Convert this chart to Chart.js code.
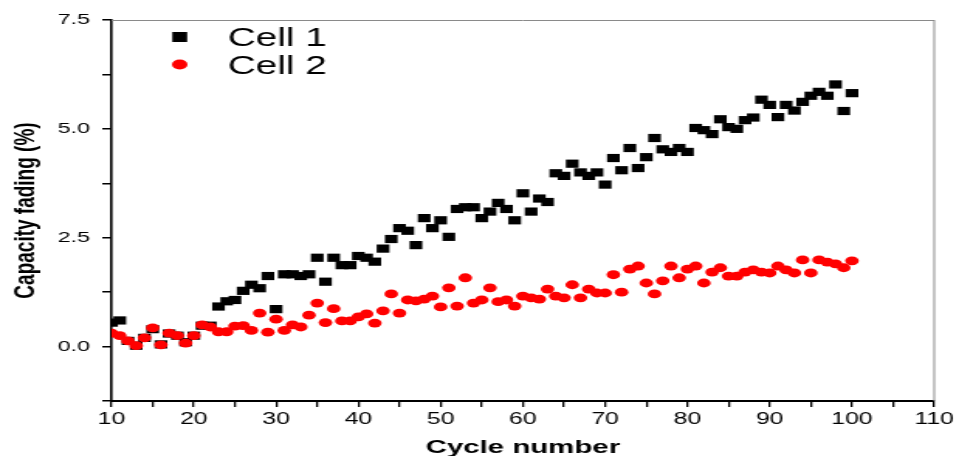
<!DOCTYPE html>
<html>
<head>
<meta charset="utf-8">
<script src="https://cdn.jsdelivr.net/npm/chart.js@4.4.0/dist/chart.umd.min.js"></script>
<style>
html, body { margin: 0; padding: 0; background: #fff; overflow: hidden; }
/* the source figure is stretched sideways, so the chart is drawn narrow and scaled */
#wrap { width: 619px; height: 456px; transform: scaleX(1.5493); transform-origin: 0 0; }
</style>
</head>
<body>
<div id="wrap"><canvas id="fadingChart"></canvas></div>
<script>
// Data
const cycles = [10, 11, 12, 13, 14, 15, 16, 17, 18, 19, 20, 21, 22, 23, 24, 25, 26, 27, 28, 29,
    30, 31, 32, 33, 34, 35, 36, 37, 38, 39, 40, 41, 42, 43, 44, 45, 46, 47, 48, 49,
    50, 51, 52, 53, 54, 55, 56, 57, 58, 59, 60, 61, 62, 63, 64, 65, 66, 67, 68, 69,
    70, 71, 72, 73, 74, 75, 76, 77, 78, 79, 80, 81, 82, 83, 84, 85, 86, 87, 88, 89,
    90, 91, 92, 93, 94, 95, 96, 97, 98, 99, 100];
const cell1 = [0.55, 0.6, 0.13, 0.02, 0.2, 0.4, 0.05, 0.3, 0.25, 0.1, 0.25, 0.48, 0.48, 0.92, 1.04, 1.07, 1.28, 1.42, 1.34, 1.62,
    0.86, 1.66, 1.66, 1.62, 1.66, 2.04, 1.49, 2.04, 1.87, 1.87, 2.08, 2.04, 1.95, 2.25, 2.47, 2.72, 2.66, 2.33, 2.95, 2.72,
    2.9, 2.52, 3.16, 3.2, 3.2, 2.95, 3.1, 3.3, 3.16, 2.9, 3.52, 3.1, 3.4, 3.32, 3.98, 3.92, 4.2, 4.0, 3.92, 4.0,
    3.72, 4.33, 4.05, 4.56, 4.1, 4.35, 4.79, 4.53, 4.47, 4.56, 4.47, 5.02, 4.97, 4.88, 5.22, 5.04, 5.0, 5.2, 5.26, 5.67,
    5.55, 5.27, 5.55, 5.42, 5.62, 5.76, 5.85, 5.76, 6.02, 5.41, 5.82];
const cell2 = [0.31, 0.25, 0.13, 0.02, 0.2, 0.43, 0.04, 0.31, 0.25, 0.08, 0.25, 0.5, 0.45, 0.34, 0.34, 0.47, 0.48, 0.37, 0.77, 0.33,
    0.63, 0.37, 0.5, 0.45, 0.72, 1.0, 0.55, 0.87, 0.59, 0.59, 0.68, 0.75, 0.54, 0.82, 1.21, 0.77, 1.07, 1.05, 1.09, 1.16,
    0.91, 1.35, 0.93, 1.58, 1.0, 1.07, 1.35, 1.03, 1.07, 0.93, 1.16, 1.12, 1.09, 1.32, 1.16, 1.12, 1.42, 1.12, 1.32, 1.23,
    1.23, 1.65, 1.25, 1.78, 1.85, 1.46, 1.21, 1.51, 1.85, 1.58, 1.78, 1.85, 1.46, 1.71, 1.81, 1.62, 1.62, 1.71, 1.76, 1.71,
    1.69, 1.85, 1.76, 1.69, 1.99, 1.69, 1.99, 1.94, 1.9, 1.81, 1.97];
const xLabels = [10, 20, 30, 40, 50, 60, 70, 80, 90, 100, 110];
const yLabels = [0, 2.5, 5, 7.5];

const FONT = '"Liberation Sans", Arial, sans-serif';

function toPoints(values) {
    return cycles.map((c, i) => ({ x: c, y: values[i] }));
}

// Legend drawn inside the plot, top left
const insideLegend = {
    id: 'insideLegend',
    afterDraw(chart) {
        const ctx = chart.ctx;
        const area = chart.chartArea;
        ctx.save();
        ctx.font = '25px ' + FONT;
        ctx.textBaseline = 'alphabetic';
        chart.data.datasets.forEach((ds, i) => {
            const cy = area.top + 17 + i * 27.5;
            const cx = area.left + 44;
            ctx.fillStyle = ds.backgroundColor;
            if (ds.pointStyle === 'rect') {
                ctx.fillRect(cx - 4.8, cy - 5, 9.6, 10);
            } else {
                ctx.beginPath();
                ctx.arc(cx, cy, 5, 0, Math.PI * 2);
                ctx.fill();
            }
            ctx.fillStyle = '#000';
            ctx.fillText(ds.label, area.left + 75, cy + 9);
        });
        ctx.restore();
    }
};

// Top and right edges of the plot box
const plotFrame = {
    id: 'plotFrame',
    beforeDatasetsDraw(chart) {
        const ctx = chart.ctx;
        const a = chart.chartArea;
        ctx.save();
        ctx.strokeStyle = '#8a8a8a';
        ctx.lineWidth = 1;
        ctx.beginPath();
        ctx.moveTo(a.left, a.top + 0.5);
        ctx.lineTo(a.right, a.top + 0.5);
        ctx.moveTo(a.right, a.top);
        ctx.lineTo(a.right, a.bottom);
        ctx.stroke();
        ctx.restore();
    }
};

const ctx = document.getElementById('fadingChart').getContext('2d');
const fadingChart = new Chart(ctx, {
    type: 'scatter',
    data: {
        datasets: [{
            label: 'Cell 1',
            data: toPoints(cell1),
            pointStyle: 'rect',
            pointRadius: 5.8,
            backgroundColor: '#000000',
            borderColor: '#000000',
            borderWidth: 0,
            order: 1
        }, {
            label: 'Cell 2',
            data: toPoints(cell2),
            pointStyle: 'circle',
            pointRadius: 4.4,
            backgroundColor: '#ff0000',
            borderColor: '#ff0000',
            borderWidth: 0,
            order: 0
        }]
    },
    options: {
        responsive: true,
        maintainAspectRatio: false,
        animation: false,
        layout: {
            padding: { top: 20, right: 16, left: 0, bottom: 0 }
        },
        plugins: {
            legend: { display: false },
            tooltip: { enabled: false }
        },
        scales: {
            x: {
                type: 'linear',
                min: 10,
                max: 110,
                afterFit: function(scale) { scale.height = 55; },
                border: { display: true, color: '#000', width: 2 },
                grid: { display: true, drawOnChartArea: false, drawTicks: true, tickLength: 6, tickColor: '#000', lineWidth: 1.3 },
                ticks: {
                    stepSize: 5,
                    padding: 3,
                    color: '#000',
                    font: { family: FONT, size: 16 },
                    maxRotation: 0,
                    autoSkip: false,
                    callback: function(value) {
                        return xLabels.includes(value) ? String(value) : '';
                    }
                },
                title: {
                    display: true,
                    text: 'Cycle number',
                    color: '#000',
                    font: { family: FONT, size: 19, weight: 'bold', lineHeight: 0.9 },
                    padding: { top: 0, bottom: 0 }
                }
            },
            y: {
                min: -1.25,
                max: 7.5,
                afterFit: function(scale) { scale.width = 72; },
                border: { display: true, color: '#000', width: 1.6 },
                grid: { display: true, drawOnChartArea: false, drawTicks: true, tickLength: 6, tickColor: '#000', lineWidth: 1.5 },
                ticks: {
                    stepSize: 1.25,
                    padding: 8,
                    color: '#000',
                    font: { family: FONT, size: 15 },
                    autoSkip: false,
                    callback: function(value) {
                        const hit = yLabels.some(v => Math.abs(v - value) < 1e-6);
                        return hit ? value.toFixed(1) : '';
                    }
                },
                title: {
                    display: true,
                    text: 'Capacity fading (%)',
                    color: '#000',
                    font: { family: FONT, size: 19, weight: 'bold' },
                    padding: { top: 5, bottom: 4 }
                }
            }
        }
    },
    plugins: [plotFrame, insideLegend]
});
</script>
</body>
</html>
